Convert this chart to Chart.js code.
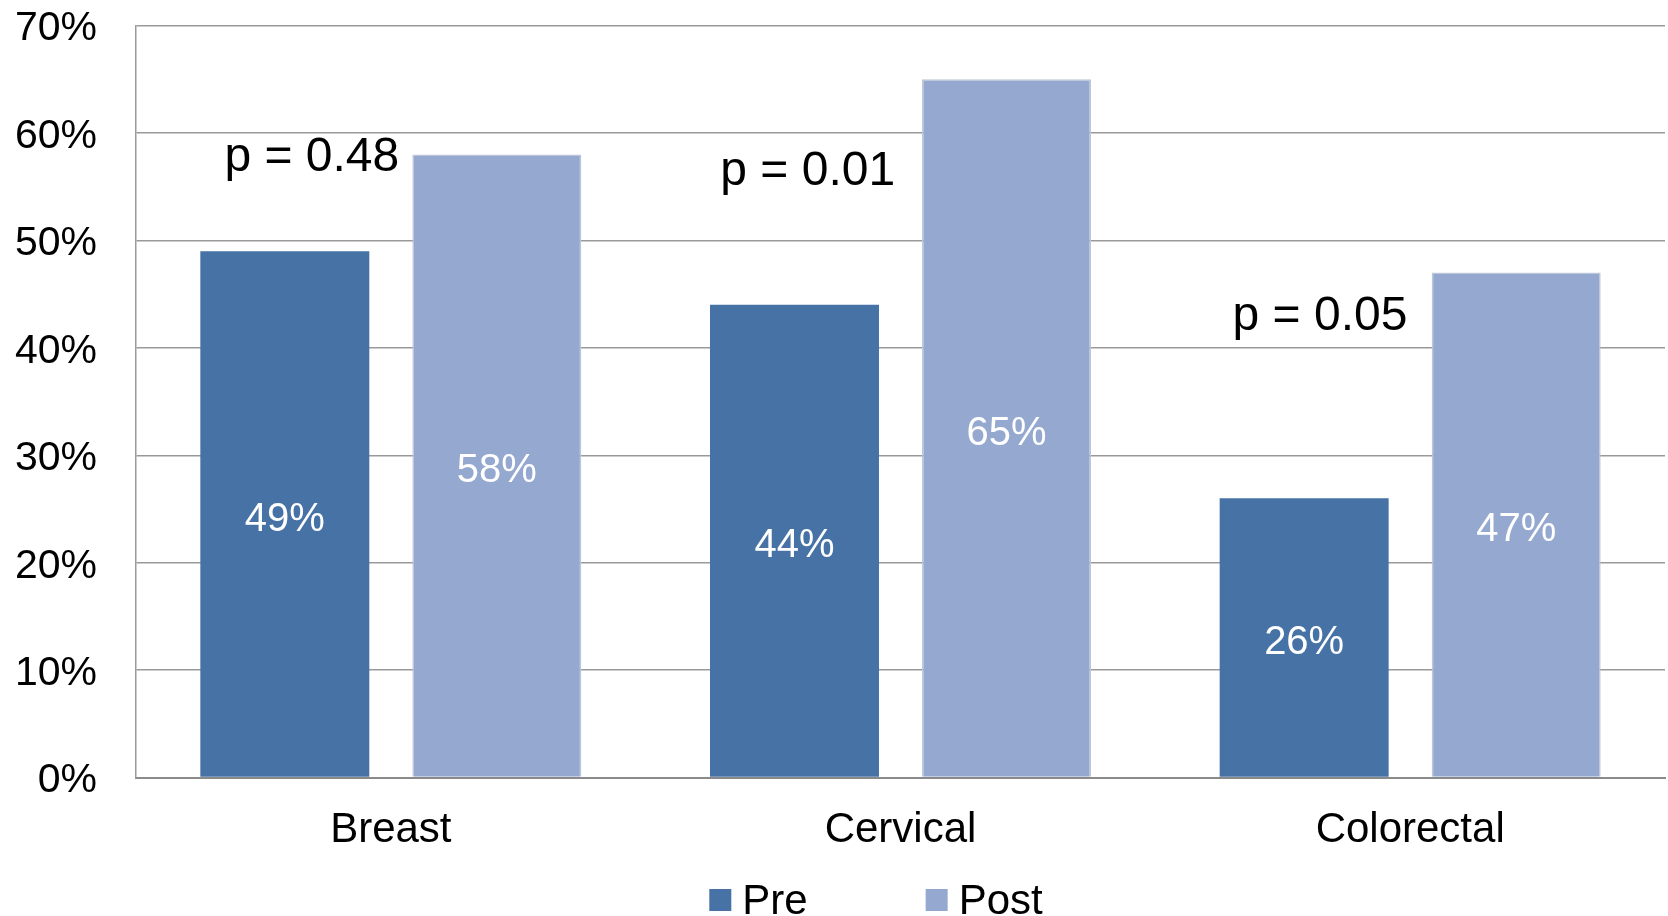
<!DOCTYPE html>
<html>
<head>
<meta charset="utf-8">
<script src="https://cdn.jsdelivr.net/npm/chart.js@4.4.1/dist/chart.umd.min.js"></script>
<style>
  html, body { margin: 0; padding: 0; background: #ffffff; }
  #wrap { width: 1668px; height: 916px; position: relative; }
</style>
</head>
<body>
<div id="wrap"><canvas id="chart"></canvas></div>
<script>
// Screening rates before and after the intervention
const categories = ['Breast', 'Cervical', 'Colorectal'];
const preValues = [49, 44, 26];
const postValues = [58, 65, 47];
const pLabels = ['p = 0.48', 'p = 0.01', 'p = 0.05'];
const seriesNames = ['Pre', 'Post'];
const yMax = 70;
const yStep = 10;

const FONT = "'Liberation Sans', Arial, Helvetica, sans-serif";
const PRE_COLOR = '#4672A6';
const POST_COLOR = '#95A9D0';

// White value labels centred inside each bar
const barValueLabels = {
  id: 'barValueLabels',
  afterDatasetsDraw(chart, args, opts) {
    const ctx = chart.ctx;
    ctx.save();
    ctx.fillStyle = '#ffffff';
    ctx.font = '40px ' + FONT;
    ctx.textAlign = 'center';
    ctx.textBaseline = 'middle';
    chart.data.datasets.forEach((ds, di) => {
      const meta = chart.getDatasetMeta(di);
      meta.data.forEach((bar, i) => {
        const mid = (bar.y + bar.base) / 2 + opts.dy;
        ctx.fillText(ds.data[i] + '%', bar.x, mid);
      });
    });
    ctx.restore();
  }
};

// Significance annotations placed in data coordinates
const pValueNotes = {
  id: 'pValueNotes',
  afterDatasetsDraw(chart, args, opts) {
    const ctx = chart.ctx;
    const xs = chart.scales.x, ys = chart.scales.y;
    ctx.save();
    ctx.fillStyle = '#000000';
    ctx.font = '48px ' + FONT;
    ctx.textAlign = 'center';
    ctx.textBaseline = 'middle';
    opts.texts.forEach((t, i) => {
      const a = opts.anchors[i];
      ctx.fillText(t, xs.getPixelForValue(a.x), ys.getPixelForValue(a.y));
    });
    ctx.restore();
  }
};

// Legend row under the category labels
const bottomLegend = {
  id: 'bottomLegend',
  afterDraw(chart, args, opts) {
    const ctx = chart.ctx;
    ctx.save();
    ctx.font = opts.fontSize + 'px ' + FONT;
    ctx.textBaseline = 'middle';
    ctx.textAlign = 'left';
    const items = chart.data.datasets.map(ds => ({
      text: ds.label, color: ds.backgroundColor,
      w: opts.box + opts.textGap + ctx.measureText(ds.label).width
    }));
    const total = items.reduce((s, it) => s + it.w, 0) + opts.itemGap * (items.length - 1);
    let x = chart.width / 2 + opts.shift - total / 2;
    const y = opts.y;
    items.forEach(it => {
      ctx.fillStyle = it.color;
      ctx.fillRect(x, y - opts.box / 2, opts.box, opts.box);
      ctx.fillStyle = '#000000';
      ctx.fillText(it.text, x + opts.box + opts.textGap, y + 2);
      x += it.w + opts.itemGap;
    });
    ctx.restore();
  }
};

new Chart(document.getElementById('chart'), {
  type: 'bar',
  data: {
    labels: categories,
    datasets: [
      {
        label: seriesNames[0],
        data: preValues,
        backgroundColor: PRE_COLOR,
        borderColor: '#4A74A6',
        borderWidth: 0
      },
      {
        label: seriesNames[1],
        data: postValues,
        backgroundColor: POST_COLOR,
        borderColor: '#BCC6D8',
        borderWidth: 1.5
      }
    ]
  },
  options: {
    responsive: true,
    maintainAspectRatio: false,
    animation: false,
    devicePixelRatio: 1,
    layout: { padding: { top: 25.5, right: 3, bottom: 58.4, left: 0 } },
    datasets: {
      bar: { categoryPercentage: 0.832, barPercentage: 0.797 }
    },
    scales: {
      x: {
        grid: { display: false, drawTicks: false },
        border: { display: true, color: '#8a8a8a', width: 2 },
        ticks: {
          color: '#000000',
          padding: 28,
          font: { family: FONT, size: 42 }
        },
        afterFit(scale) { scale.height = 80; }
      },
      y: {
        min: 0,
        max: yMax,
        grid: {
          color: '#999999', lineWidth: 1.5,
          drawTicks: true, tickLength: 39, tickColor: 'rgba(0,0,0,0)'
        },
        border: { display: true, color: '#9a9a9a', width: 1.5 },
        ticks: {
          stepSize: yStep,
          color: '#000000',
          padding: 0,
          labelOffset: 3.5,
          font: { family: FONT, size: 41 },
          callback: v => v + '%'
        },
        afterFit(scale) { scale.width = 136; }
      }
    },
    plugins: {
      legend: { display: false },
      tooltip: { enabled: false },
      barValueLabels: { dy: 5.5 },
      pValueNotes: {
        texts: pLabels,
        anchors: [ { x: -0.155, y: 57.7 }, { x: 0.818, y: 56.4 }, { x: 1.823, y: 42.9 } ]
      },
      bottomLegend: { fontSize: 42, box: 22, textGap: 11, itemGap: 118, y: 900, shift: 42 }
    }
  },
  plugins: [barValueLabels, pValueNotes, bottomLegend]
});
</script>
</body>
</html>
